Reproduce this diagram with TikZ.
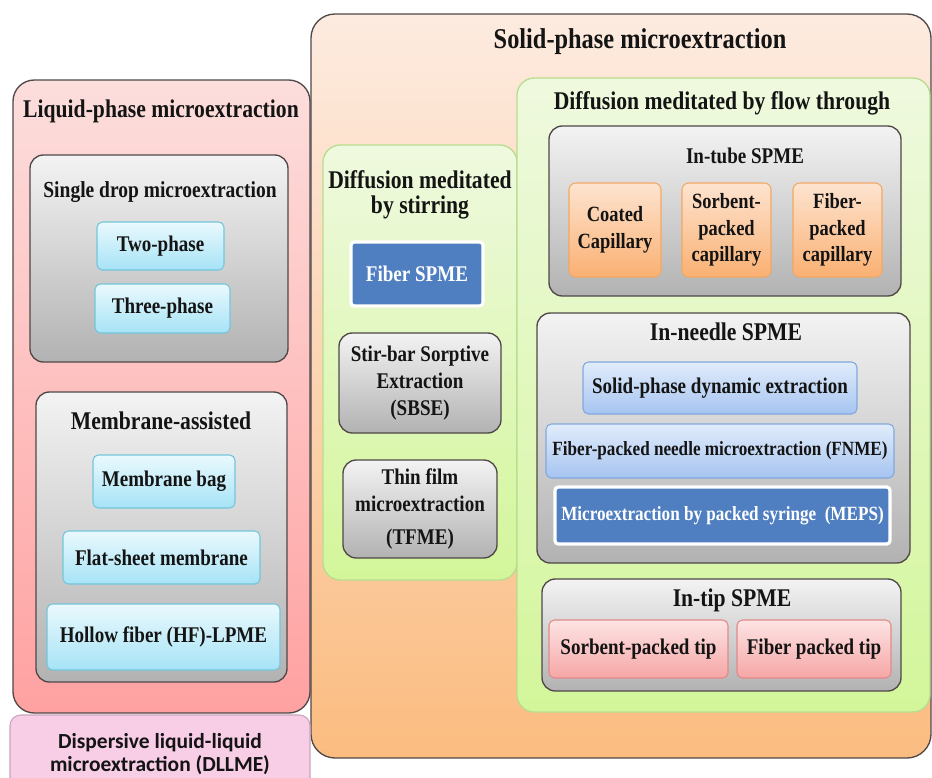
\documentclass[tikz,border=0pt]{standalone}
\usepackage{fontspec}
\setmainfont{Liberation Serif}
\newfontfamily\serifc{Liberation Serif}[FakeStretch=0.85]
\newfontfamily\calibfont{Carlito}
\usetikzlibrary{shadows}

% palette
\definecolor{edgegray}{HTML}{504848}
\definecolor{lpTop}{HTML}{FCDEDC}
\definecolor{lpBot}{HTML}{FFA1A1}
\definecolor{spTop}{HTML}{FDEBE0}
\definecolor{spBot}{HTML}{FBBC80}
\definecolor{grTop}{HTML}{EFF9DF}
\definecolor{grBot}{HTML}{D3F69A}
\definecolor{grEdge}{HTML}{B8DD8E}
\definecolor{gyTop}{HTML}{F3F3F3}
\definecolor{gyBot}{HTML}{B2B2B2}
\definecolor{cyTop}{HTML}{EAF9FD}
\definecolor{cyBot}{HTML}{A6E3F6}
\definecolor{cyEdge}{HTML}{74C5DB}
\definecolor{orTop}{HTML}{FDE4D0}
\definecolor{orBot}{HTML}{FAB072}
\definecolor{orEdge}{HTML}{F2A865}
\definecolor{lbTop}{HTML}{E1ECFB}
\definecolor{lbBot}{HTML}{A6C4F0}
\definecolor{lbEdge}{HTML}{82A8DD}
\definecolor{dkBlue}{HTML}{4F7FC0}
\definecolor{rdTop}{HTML}{FDE4E4}
\definecolor{rdBot}{HTML}{F6A6A6}
\definecolor{rdEdge}{HTML}{E08A8A}
\definecolor{dlFill}{HTML}{F8CDE6}
\definecolor{dlEdge}{HTML}{C9A6BB}
\definecolor{ink}{HTML}{141414}

% condensed bold serif in several sizes
\newcommand{\fmain}{\serifc\fontsize{21.5}{24}\selectfont\bfseries}
\newcommand{\ftitle}{\serifc\fontsize{19.1}{18.75}\selectfont\bfseries}
\newcommand{\fsub}{\serifc\fontsize{17.2}{20}\selectfont\bfseries}
\newcommand{\finner}{\serifc\fontsize{16.8}{20.25}\selectfont\bfseries}
\newcommand{\fcap}{\serifc\fontsize{16.3}{19.8}\selectfont\bfseries}
\newcommand{\fsmall}{\serifc\fontsize{15.1}{18}\selectfont\bfseries}

\begin{document}
\begin{tikzpicture}[x=0.75pt,y=-0.75pt,
  rect/.style n args={4}{inner sep=0pt, anchor=center,
    minimum width={(#3-#1)*0.75pt}, minimum height={(#4-#2)*0.75pt},
    at={({(#1+#3)/2},{(#2+#4)/2})}},
  lpbox/.style={draw=edgegray, line width=1pt, rounded corners=16pt, top color=lpTop, bottom color=lpBot},
  spbox/.style={draw=edgegray, line width=1pt, rounded corners=18pt, top color=spTop, bottom color=spBot},
  grbox/.style={draw=grEdge, line width=1pt, rounded corners=13pt, top color=grTop, bottom color=grBot},
  gybox/.style={draw=edgegray, line width=1pt, rounded corners=10pt, top color=gyTop, bottom color=gyBot, text=ink, align=center},
  cybox/.style={draw=cyEdge, line width=0.8pt, rounded corners=4pt, top color=cyTop, bottom color=cyBot, text=ink, align=center, font=\finner},
  orbox/.style={draw=orEdge, line width=0.8pt, rounded corners=5pt, top color=orTop, bottom color=orBot, text=ink, align=center, font=\fcap},
  lbbox/.style={draw=lbEdge, line width=0.8pt, rounded corners=4pt, top color=lbTop, bottom color=lbBot, text=ink, align=center},
  rdbox/.style={draw=rdEdge, line width=0.8pt, rounded corners=4pt, top color=rdTop, bottom color=rdBot, text=ink, align=center, font=\finner},
  dkbox/.style={draw=white, line width=2.4pt, rounded corners=2.5pt, fill=dkBlue, text=white, align=center,
    drop shadow={opacity=0.3, shadow xshift=0.6pt, shadow yshift=-1pt}},
  ttl/.style={anchor=base, inner sep=0pt, text=ink, font=\ftitle},
]
\useasboundingbox (0,0) rectangle (932,778);
\clip (0,0) rectangle (932,778);

% ---------- solid-phase family ----------
\node[spbox, rect={311}{14}{931}{758}] (spme) {};
\node[ttl, font=\fmain] (spmeT) at (640,48) {Solid-phase microextraction};

% stirring column
\node[grbox, rect={323}{145}{517}{580}] (stir) {};
\node[anchor=center, inner sep=0pt, text=ink, font=\ftitle, align=center] (stirT) at (420,195) {Diffusion meditated\\by stirring};
\node[dkbox, rect={351}{242}{483}{306}, font=\finner] (fiber) {Fiber SPME};
\node[gybox, rect={339}{333}{501}{433}, font=\finner] (sbse) {Stir-bar Sorptive\\Extraction\\(SBSE)};
\node[gybox, rect={343}{460}{497}{558}, font=\finner] (tfme) {Thin film\\microextraction\\[4pt](TFME)};

% flow-through column
\node[grbox, rect={517}{78}{930}{712}] (flow) {};
\node[ttl] (flowT) at (722,109) {Diffusion meditated by flow through};

\node[gybox, rect={549}{126}{901}{296}] (tube) {};
\node[ttl, font=\finner] (tubeT) at (745,163) {In-tube SPME};
\node[orbox, rect={569}{183}{661}{277}] (coated) {Coated\\Capillary};
\node[orbox, rect={682}{183}{771}{277}] (sorbcap) {Sorbent-\\packed\\capillary};
\node[orbox, rect={793}{183}{882}{277}] (fibcap) {Fiber-\\packed\\capillary};

\node[gybox, rect={537}{313}{910}{563}] (needle) {};
\node[ttl] (needleT) at (726,340) {In-needle SPME};
\node[lbbox, rect={583}{362}{857}{414}, font=\finner] (spde) {Solid-phase dynamic extraction};
\node[lbbox, rect={546}{424}{894}{478}, font=\fsmall] (fnme) {Fiber-packed needle microextraction (FNME)};
\node[dkbox, rect={555}{487}{890}{544}, font=\fsmall] (meps) {Microextraction by packed syringe\ \ (MEPS)};

\node[gybox, rect={542}{579}{901}{691}] (tip) {};
\node[ttl] (tipT) at (732,606) {In-tip SPME};
\node[rdbox, rect={549}{620}{728}{678}] (sorbtip) {Sorbent-packed tip};
\node[rdbox, rect={737}{620}{891}{678}] (fibtip) {Fiber packed tip};

% ---------- liquid-phase family ----------
\node[lpbox, rect={13}{80}{310}{713}] (lpme) {};
\node[ttl] (lpmeT) at (161,117) {Liquid-phase microextraction};

\node[gybox, rect={30}{155}{288}{362}] (sdme) {};
\node[ttl, font=\fsub] (sdmeT) at (160,197) {Single drop microextraction};
\node[cybox, rect={97}{222}{224}{270}] (two) {Two-phase};
\node[cybox, rect={95}{284}{230}{333}] (three) {Three-phase};

\node[gybox, rect={36}{392}{287}{682}] (memb) {};
\node[ttl] (membT) at (161,429) {Membrane-assisted};
\node[cybox, rect={93}{455}{235}{508}] (bag) {Membrane bag};
\node[cybox, rect={63}{531}{260}{584}] (flat) {Flat-sheet membrane};
\node[cybox, rect={47}{604}{280}{670}] (hollow) {Hollow fiber (HF)-LPME};

% dispersive variant, running off the lower edge
\node[draw=dlEdge, line width=0.8pt, fill=dlFill, rounded corners=8pt, rect={10}{715}{310}{800}] (dllme) {};
\node[anchor=center, inner sep=0pt, align=center, text=ink,
  font={\calibfont\fontsize{16.1}{17.5}\selectfont\bfseries}] (dllmeT) at (160,754)
  {Dispersive liquid-liquid\\microextraction (DLLME)};
\end{tikzpicture}
\end{document}
